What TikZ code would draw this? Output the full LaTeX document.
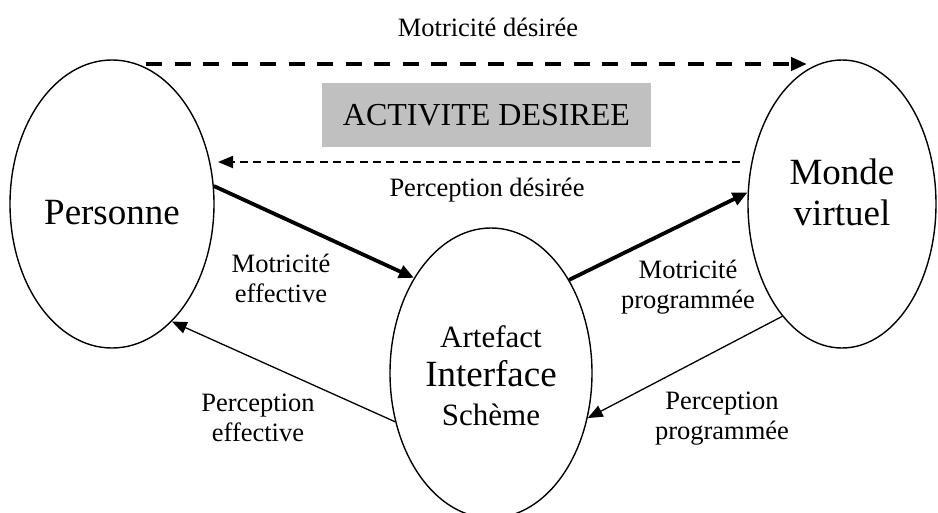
\documentclass[tikz,border=0pt]{standalone}
\usepackage{fontspec}
\setmainfont{Liberation Serif}
\usetikzlibrary{shapes.geometric,arrows.meta}
\definecolor{boxgray}{RGB}{192,192,192}
\begin{document}
\begin{tikzpicture}[x=1pt,y=-1pt,
  ell/.style={draw, ellipse, line width=1.4pt, inner sep=0pt, align=center},
  lab/.style={font=\fontsize{26.5}{30}\selectfont, align=center, inner sep=0pt},
  thickarrow/.style={line width=3.8pt, -{Triangle[length=15pt,width=13pt]}},
  thinarrow/.style={line width=1.3pt, -{Triangle[length=15pt,width=12pt]}},
  bigdash/.style={line width=4.3pt, dash pattern=on 16pt off 12.5pt, -{Triangle[length=16pt,width=13pt]}},
  smalldash/.style={line width=1.8pt, dash pattern=on 8pt off 5.3pt, -{Triangle[length=15pt,width=12pt]}}]
\useasboundingbox (0,0) rectangle (938,512);

% ellipses
\node[ell, minimum width=204pt, minimum height=288pt, font=\fontsize{37}{41}\selectfont, text height=42pt] (pers) at (112,204) {Personne};
\node[ell, minimum width=188pt, minimum height=288pt, font=\fontsize{37}{41}\selectfont, text depth=24pt] (monde) at (842,204) {Monde\\virtuel};
\node[ell, minimum width=202pt, minimum height=290pt, font=\fontsize{31}{39}\selectfont, text height=105pt] (art) at (491,373) {Artefact\\{\fontsize{37}{39}\selectfont Interface}\\Schème};

% gray box
\node[fill=boxgray, minimum width=329pt, minimum height=64pt, inner sep=0pt, font=\fontsize{32}{38}\selectfont] (act) at (486.5,115) {ACTIVITE DESIREE};

% labels
\node[lab] (md) at (488,27) {Motricité désirée};
\node[lab] (pdl) at (487,190) {Perception désirée};
\node[lab] (me) at (281,278) {Motricité\\effective};
\node[lab] (mp) at (688,287) {Motricité\\programmée};
\node[lab] (pe) at (258,418) {Perception\\effective};
\node[lab] (pp) at (722,419) {Perception\\programmée};

% connectors
\coordinate (md1) at (146,64);
\coordinate (md2) at (807,64);
\draw[bigdash] (md1) -- (md2);
\coordinate (pd1) at (740,162);
\coordinate (pd2) at (218,162);
\draw[smalldash] (pd1) -- (pd2);

\draw[thickarrow] (pers.10) -- (art.129.4);
\draw[thickarrow] (art.50.4) -- (monde.173);
\draw[thinarrow] (art.207.3) -- (pers.-63.5);
\draw[thinarrow] (monde.242.8) -- (art.-25.5);
\end{tikzpicture}
\end{document}
